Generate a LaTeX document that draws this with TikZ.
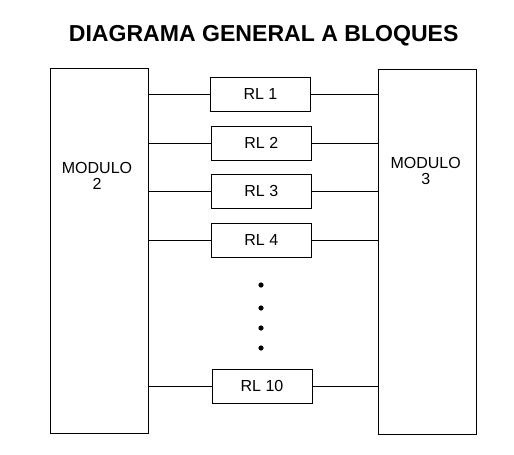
\documentclass[tikz,border=0pt]{standalone}
\usepackage{fontspec}
\setmainfont{Liberation Sans}
\usetikzlibrary{positioning}

\begin{document}
\begin{tikzpicture}[x=0.75pt,y=-0.75pt,line width=0.75pt,
      module/.style={draw,minimum width=73.5pt,minimum height=273.75pt,inner sep=0pt},
      modtext/.style={anchor=north,align=center,inner sep=0pt,font=\fontsize{12}{12.4}\selectfont},
      relay/.style={draw,minimum width=75pt,minimum height=25.5pt,inner sep=0pt,font=\fontsize{12}{14}\selectfont},
      dot/.style={circle,fill,inner sep=0pt,minimum size=3.9pt}]
      \useasboundingbox (0,0) rectangle (514,454);
      \node[anchor=base,font=\fontsize{17.3}{20}\selectfont\bfseries] (title) at (263.7,41) {DIAGRAMA GENERAL A BLOQUES};
      % modulos
      \node[module] (m2) at (99.5,250.5) {};
      \node[module] (m3) at (427,251.6) {};
      \node[modtext] (m2text) at (97,161.5) {MODULO\\2};
      \node[modtext] (m3text) at (425.7,156.5) {MODULO\\3};
      % relevadores
      \node[relay] (rl1) at (260.5,94) {RL 1};
      \node[relay] (rl2) at (261.3,143.3) {RL 2};
      \node[relay] (rl3) at (261.3,191) {RL 3};
      \node[relay] (rl4) at (261.3,240) {RL 4};
      \node[relay] (rl10) at (262,386) {RL 10};
      \foreach \r in {rl1,rl2,rl3,rl4,rl10}
        \draw (m2.east |- \r) -- (\r.west) (\r.east) -- (m3.west |- \r);
      % puntos
      \node[dot] (d1) at (261,285) {};
      \node[dot] (d2) at (261,308) {};
      \node[dot] (d3) at (261,328) {};
      \node[dot] (d4) at (261,348) {};
    \end{tikzpicture}
\end{document}
